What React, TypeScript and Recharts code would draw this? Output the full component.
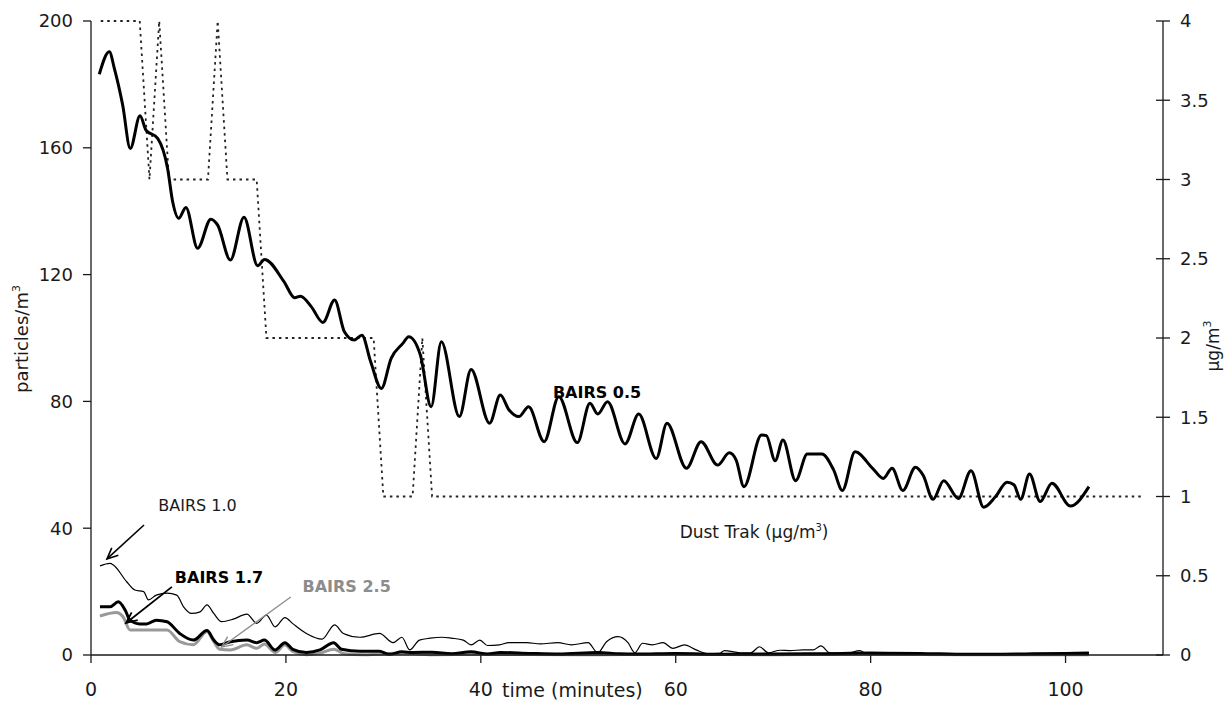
import React from 'react';
import { LineChart, Line, XAxis, YAxis, ReferenceLine, ReferenceDot } from 'recharts';

const FONT = 'DejaVu Sans';
const INK = '#1a1a1a';
const GREY = '#8c8c8c';

// x axis (minutes) and the two value axes
const xTicks = [0, 20, 40, 60, 80, 100];
const leftTicks = [0, 40, 80, 120, 160, 200];
const rightTicks = [0, 0.5, 1, 1.5, 2, 2.5, 3, 3.5, 4];

// BAIRS 0.5, particles/m3
const b05Time = [0.85, 1.88, 2.4, 3.25, 4.03, 5.03, 5.64, 6.84, 7.86, 8.38, 9.0, 9.74, 10.94, 12.3, 13.0, 14.3, 15.7, 17.1, 17.8, 19.8, 20.9, 21.5, 22.6, 23.8, 25.0, 26.0, 27.0, 27.8, 28.7, 29.8, 30.8, 32.0, 32.6, 33.8, 34.9, 35.95, 37.8, 39.0, 40.9, 42.0, 42.9, 43.9, 44.9, 46.5, 48.0, 49.9, 51.2, 52.0, 53.0, 54.8, 56.2, 58.0, 59.1, 61.1, 62.6, 64.3, 65.5, 66.2, 67.0, 68.8, 69.3, 70.2, 71.0, 72.3, 73.5, 75.0, 76.2, 77.1, 78.4, 80.2, 81.3, 82.2, 83.3, 84.6, 85.4, 86.4, 87.5, 89.0, 90.3, 91.6, 92.8, 94.0, 94.7, 95.4, 96.3, 97.4, 98.6, 100.5, 102.4];
const b05Vals = [183.2, 190.3, 185, 173.5, 159.8, 170.1, 165.6, 163, 153.5, 143, 137.8, 141.2, 128.3, 137.5, 135.6, 124.6, 138.1, 122.8, 124.8, 117.8, 112.7, 113.2, 109.9, 104.9, 112, 102, 99.4, 100.9, 92.5, 84.1, 93.6, 98.3, 100.4, 94.6, 78.3, 98.8, 75.2, 90.1, 73.1, 82.0, 77.3, 75.2, 78.3, 67.3, 81.5, 67.0, 79.4, 76, 79.9, 66.6, 76, 62, 73.1, 58.9, 67.3, 59.9, 63.8, 61.5, 53.1, 69.4, 69.2, 61.3, 67.8, 55.0, 63.4, 63.4, 58.4, 51.9, 64.1, 58.9, 55.7, 58.9, 51.9, 59.2, 56.6, 49.1, 55, 49.4, 58.1, 46.6, 49.9, 54.5, 53.7, 49.1, 57.1, 48.4, 54.2, 47, 53.1];

// BAIRS 1.0
const b10Time = [0.92, 1.95, 2.3, 3.66, 4.5, 5.4, 5.9, 6.7, 7.8, 8.8, 9.5, 10.3, 11.2, 11.9, 12.6, 13.4, 14.6, 16.0, 17.0, 18.0, 18.9, 19.9, 20.7, 22.1, 23.7, 25.0, 25.9, 27.6, 29.6, 31.0, 31.9, 32.7, 33.7, 34.8, 36.0, 37.0, 38.2, 39.0, 39.9, 40.7, 41.9, 42.9, 44.7, 46.1, 47.9, 49.3, 51.0, 52.0, 52.9, 54.1, 55.1, 55.8, 56.6, 57.6, 58.7, 59.7, 60.9, 62.1, 63.3, 64.5, 65.0, 66.6, 67.7, 68.6, 69.5, 70.7, 71.7, 73.1, 74.1, 74.9, 75.8, 77.5, 78.9, 79.6, 81, 90, 102.4];
const b10Vals = [28.1, 28.9, 28.4, 23.1, 20.5, 20, 17.4, 18.9, 19.5, 18.9, 15.2, 13.1, 13.6, 15.8, 13.1, 10.5, 11.3, 12.9, 10, 12.6, 8.9, 11.8, 9.9, 6.8, 5.0, 9.5, 6.8, 5.6, 6.8, 3.9, 5.6, 1.6, 4.7, 5.3, 5.6, 5.3, 4.7, 3.2, 4.7, 3.0, 3.2, 3.9, 3.9, 3.5, 3.9, 3.2, 3.9, 0.7, 4.2, 5.8, 3.9, 0.7, 3.7, 3.2, 3.9, 2.1, 3.2, 1.6, 0.4, 0.5, 1.4, 0.7, 0.7, 2.6, 0.7, 1.5, 1.4, 1.6, 1.6, 2.9, 0.7, 0.5, 1.4, 0.4, 0.3, 0.2, 0.3];

// BAIRS 1.7
const b17Time = [0.92, 1.95, 2.8, 3.5, 4.0, 5.0, 5.7, 6.7, 7.8, 9.1, 10.5, 11.9, 12.6, 13.2, 14.3, 16.0, 17.0, 17.8, 18.9, 19.9, 20.7, 22.1, 23.5, 24.9, 25.7, 27.6, 29.6, 30.6, 31.9, 33, 35, 37, 39, 40.7, 42, 45, 48, 52, 54.2, 56, 60, 65, 70, 75, 80, 85, 90, 95, 100, 102.4];
const b17Vals = [15.2, 15.2, 16.8, 14.2, 11.0, 9.8, 9.8, 11.0, 10.5, 6.8, 4.7, 7.7, 4.7, 3.2, 4.2, 4.7, 3.9, 4.7, 1.6, 3.9, 1.8, 0.8, 1.6, 3.9, 1.8, 1.2, 1.2, 0.2, 1.0, 0.8, 0.9, 0.4, 1.0, 0.3, 0.8, 0.5, 0.3, 0.8, 0.4, 0.3, 0.5, 0.2, 0.3, 0.4, 0.6, 0.5, 0.2, 0.3, 0.5, 0.6];

// BAIRS 2.5
const b25Time = [0.92, 2.6, 3.3, 4.0, 5.0, 7.8, 9.1, 10.5, 11.9, 12.6, 13.2, 14.3, 16.0, 17.0, 17.8, 18.9, 19.9, 20.7, 22.1, 23.5, 24.9, 26.0, 28, 32, 35, 40, 50, 60, 70, 80, 90, 102.4];
const b25Vals = [12.3, 13.4, 12.0, 7.9, 7.9, 7.9, 4.2, 3.2, 7.4, 4.2, 1.8, 1.6, 3.2, 2.1, 3.5, 0.8, 3.2, 1.1, 0.1, 0.6, 1.8, 0.4, 0.1, 0.6, 0.1, 0.2, 0.1, 0.2, 0.1, 0.2, 0.1, 0.1];

// Dust Trak, ug/m3 (right axis), one reading a minute; only the change points are kept
const dustTime = [1, 5, 6, 7, 8, 12, 13, 14, 17, 18, 29, 30, 33, 34, 35, 108];
const dustVals = [4, 4, 3, 4, 3, 3, 4, 3, 3, 2, 2, 1, 1, 2, 1, 1];

const zip = (ts: number[], vs: number[]) => ts.map((t, i) => ({ t, v: vs[i] }));

const b05 = zip(b05Time, b05Vals);
const b10 = zip(b10Time, b10Vals);
const b17 = zip(b17Time, b17Vals);
const b25 = zip(b25Time, b25Vals);
const dust = zip(dustTime, dustVals);

const arrow = (color: string, w: number) => (p: any) => {
  const { x1, y1, x2, y2 } = p;
  const a = Math.atan2(y2 - y1, x2 - x1);
  const len = 12;
  const s = 0.42;
  const l = `${x2 - len * Math.cos(a - s)},${y2 - len * Math.sin(a - s)}`;
  const r = `${x2 - len * Math.cos(a + s)},${y2 - len * Math.sin(a + s)}`;
  return (
    <g>
      <line x1={x1} y1={y1} x2={x2} y2={y2} stroke={color} strokeWidth={w} />
      <polyline points={`${l} ${x2},${y2} ${r}`} fill="none" stroke={color} strokeWidth={w} />
    </g>
  );
};

const note = (text: React.ReactNode, color: string, bold: boolean, size = 16) => (p: any) => (
  <text x={p.cx} y={p.cy} fill={color} fontSize={size} fontWeight={bold ? 'bold' : 'normal'} fontFamily={FONT}>
    {text}
  </text>
);

const RightTick = (props: any) => {
  const { x, y, payload } = props;
  return (
    <g>
      <line x1={x - 7} y1={y} x2={x + 7} y2={y} stroke={INK} strokeWidth={1.3} />
      <text x={x + 17} y={y} dy="0.36em" fontSize={18} fill={INK} fontFamily={FONT}>
        {payload.value}
      </text>
    </g>
  );
};

const LeftTitle = (props: any) => {
  const vb = props.viewBox;
  const cx = vb.x + 22;
  const cy = vb.y + vb.height / 2 + 1;
  return (
    <text x={cx} y={cy} transform={`rotate(-90 ${cx} ${cy})`} textAnchor="middle" fontSize={18} fill={INK} fontFamily={FONT} dy="0.36em">
      particles/m<tspan dy={-8} fontSize={11}>3</tspan>
    </text>
  );
};

const RightTitle = (props: any) => {
  const vb = props.viewBox;
  const cx = vb.x + 50;
  const cy = vb.y + vb.height / 2 + 8;
  return (
    <text x={cx} y={cy} transform={`rotate(-90 ${cx} ${cy})`} textAnchor="middle" fontSize={17} fill={INK} fontFamily={FONT} dy="0.36em">
      µg/m<tspan dy={-8} fontSize={11}>3</tspan>
    </text>
  );
};

const BottomTitle = (props: any) => {
  const vb = props.viewBox;
  return (
    <text x={vb.x + (vb.width * 49.4) / 110} y={vb.y + 42} textAnchor="middle" fontSize={19} fill={INK} fontFamily={FONT}>
      time (minutes)
    </text>
  );
};

export default function App() {
  return (
    <div style={{ position: 'absolute', left: 0, top: 0, background: '#fff' }}>
      <LineChart width={1225} height={703} margin={{ top: 21, right: 0, bottom: 0, left: 0 }} style={{ fontFamily: FONT }}>
        <XAxis
          type="number"
          dataKey="t"
          domain={[0, 110]}
          ticks={xTicks}
          allowDataOverflow
          height={48}
          tickSize={8}
          tickMargin={20}
          tick={{ fontSize: 19, fill: INK }}
          axisLine={{ stroke: INK, strokeWidth: 1.3 }}
          tickLine={{ stroke: INK, strokeWidth: 1.3 }}
          label={<BottomTitle />}
        />
        <YAxis
          yAxisId="left"
          domain={[0, 200]}
          ticks={leftTicks}
          width={91}
          tickSize={8}
          tickMargin={10}
          tick={{ fontSize: 18, fill: INK }}
          axisLine={{ stroke: INK, strokeWidth: 1.3 }}
          tickLine={{ stroke: INK, strokeWidth: 1.3 }}
          label={<LeftTitle />}
        />
        <YAxis
          yAxisId="right"
          orientation="right"
          domain={[0, 4]}
          ticks={rightTicks}
          width={62}
          tickSize={0}
          tickMargin={0}
          tickLine={false}
          tick={<RightTick />}
          axisLine={{ stroke: INK, strokeWidth: 1.3 }}
          label={<RightTitle />}
        />

        <Line data={b25} dataKey="v" yAxisId="left" type="monotone" stroke="#999" strokeWidth={3} dot={false} activeDot={false} isAnimationActive={false} />
        <Line data={b17} dataKey="v" yAxisId="left" type="monotone" stroke="#000" strokeWidth={3} dot={false} activeDot={false} isAnimationActive={false} />
        <Line data={b10} dataKey="v" yAxisId="left" type="monotone" stroke="#000" strokeWidth={1.2} dot={false} activeDot={false} isAnimationActive={false} />
        <Line data={dust} dataKey="v" yAxisId="right" type="linear" stroke="#222" strokeWidth={1.8} strokeDasharray="2.5 4" dot={false} activeDot={false} isAnimationActive={false} />
        <Line data={b05} dataKey="v" yAxisId="left" type="monotone" stroke="#000" strokeWidth={3} dot={false} activeDot={false} isAnimationActive={false} />

        {/* annotations */}
        <ReferenceLine yAxisId="left" segment={[{ x: 5.44, y: 41 }, { x: 1.64, y: 30.3 }]} ifOverflow="visible" shape={arrow('#000', 1.6)} />
        <ReferenceLine yAxisId="left" segment={[{ x: 8.3, y: 21.5 }, { x: 3.6, y: 10.1 }]} ifOverflow="visible" shape={arrow('#000', 1.8)} />
        <ReferenceLine yAxisId="left" segment={[{ x: 20.5, y: 18.3 }, { x: 13.4, y: 2.5 }]} ifOverflow="visible" shape={arrow(GREY, 1.3)} />
        <ReferenceDot yAxisId="left" x={6.9} y={45.4} r={0} ifOverflow="visible" shape={note('BAIRS 1.0', INK, false)} />
        <ReferenceDot yAxisId="left" x={8.6} y={22.7} r={0} ifOverflow="visible" shape={note('BAIRS 1.7', '#000', true)} />
        <ReferenceDot yAxisId="left" x={21.7} y={19.9} r={0} ifOverflow="visible" shape={note('BAIRS 2.5', GREY, true)} />
        <ReferenceDot yAxisId="left" x={47.4} y={81} r={0} ifOverflow="visible" shape={note('BAIRS 0.5', '#000', true)} />
        <ReferenceDot
          yAxisId="left"
          x={60.4}
          y={36.9}
          r={0}
          ifOverflow="visible"
          shape={note(<>Dust Trak (µg/m<tspan dy={-7} fontSize={10}>3</tspan><tspan dy={7}>)</tspan></>, INK, false, 17)}
        />
      </LineChart>
    </div>
  );
}
